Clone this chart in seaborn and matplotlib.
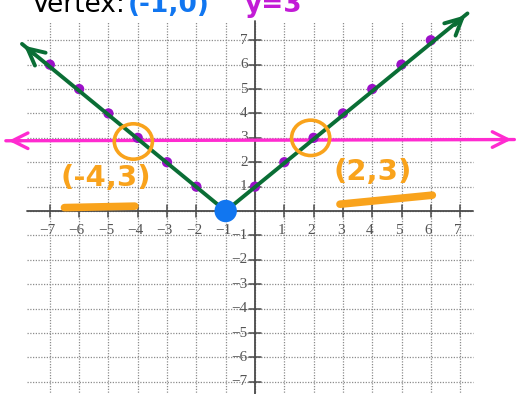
import matplotlib
matplotlib.use("Agg")
import matplotlib.pyplot as plt
import seaborn as sns
import pandas as pd
from matplotlib.patches import Ellipse

# ---- data ----
ticks_x = [-7, -6, -5, -4, -3, -2, -1, 1, 2, 3, 4, 5, 6, 7]
ticks_y = [-7, -6, -5, -4, -3, -2, -1, 1, 2, 3, 4, 5, 6, 7]
grid_vals = [-7, -6, -5, -4, -3, -2, -1, 0, 1, 2, 3, 4, 5, 6, 7]

points_x = [-7, -6, -5, -4, -3, -2, 0, 1, 2, 3, 4, 5, 6]
points_y = [6, 5, 4, 3, 2, 1, 1, 2, 3, 4, 5, 6, 7]

vline_x = [-7.95, -1, 7.25]
vline_y = [6.85, 0, 8.1]

vertex_x = [-1]
vertex_y = [0]

hline_x = [-8.5, 8.85]
hline_y = [2.88, 2.93]

circle_x = [-4.15, 1.9]
circle_y = [2.85, 3.0]

label_text = ["(-4,3)", "(2,3)"]
label_x = [-5.08, 4.03]
label_y = [1.35, 1.6]
under_x = [[-6.5, -4.1], [2.9, 6.05]]
under_y = [[0.14, 0.2], [0.28, 0.65]]

GREEN = "#0a6e35"
MAGENTA = "#ff2bd0"
PURPLE = "#9b10c8"
BLUE = "#1176f0"
ORANGE = "#f9a31c"
GRID = "#8c8c8c"
AXC = "#4a4a4a"

sns.set_style("white")
fig = plt.figure(figsize=(5.17, 3.94), dpi=100)
ax = fig.add_axes([0, 0, 1, 1])
ax.set_xlim(-8.70, 8.94)
ax.set_ylim(-7.50, 8.65)
ax.axis("off")

# grid
gx0, gx1 = -7.78, 7.44
gy0, gy1 = -7.6, 7.8
for v in grid_vals:
    ax.plot([v, v], [gy0, gy1], color=GRID, lw=0.9, ls=(0, (1, 1.2)), zorder=1)
    ax.plot([gx0, gx1], [v, v], color=GRID, lw=0.9, ls=(0, (1, 1.2)), zorder=1)

# axes
ax.plot([gx0, gx1], [0, 0], color=AXC, lw=1.3, zorder=2)
ax.plot([0, 0], [gy0, gy1], color=AXC, lw=1.3, zorder=2)
for t in ticks_x:
    ax.plot([t, t], [-0.25, 0.25], color=AXC, lw=1.1, zorder=2)
    ax.text(t - 0.08, -0.78, f"{t}".replace("-", "\u2212"), ha="center", va="center",
            fontsize=11, family="Liberation Serif", color="#555555", zorder=2)
for t in ticks_y:
    ax.plot([-0.2, 0.2], [t, t], color=AXC, lw=1.1, zorder=2)
    ax.text(-0.25, t, f"{t}".replace("-", "\u2212"), ha="right", va="center",
            fontsize=11, family="Liberation Serif", color="#555555", zorder=2)

# magenta horizontal line
df_h = pd.DataFrame({"x": hline_x, "y": hline_y})
sns.lineplot(data=df_h, x="x", y="y", ax=ax, color=MAGENTA, lw=2.4, zorder=3)
ax.annotate("", xy=(hline_x[0], hline_y[0]), xytext=(hline_x[0] + 0.6, hline_y[0]),
            arrowprops=dict(arrowstyle="->", color=MAGENTA, lw=2.4, mutation_scale=28), zorder=3)
ax.annotate("", xy=(hline_x[1], hline_y[1]), xytext=(hline_x[1] - 0.6, hline_y[1]),
            arrowprops=dict(arrowstyle="->", color=MAGENTA, lw=2.4, mutation_scale=28), zorder=3)

# purple points
df_p = pd.DataFrame({"x": points_x, "y": points_y})
sns.scatterplot(data=df_p, x="x", y="y", ax=ax, color=PURPLE, s=55, edgecolor="none", zorder=4)

# green V line
df_v = pd.DataFrame({"x": vline_x, "y": vline_y})
ax.plot(df_v["x"], df_v["y"], color=GREEN, lw=2.8, zorder=5, solid_capstyle="round", solid_joinstyle="round")
ax.annotate("", xy=(vline_x[0], vline_y[0]), xytext=(vline_x[0] + 0.5, vline_y[0] - 0.5),
            arrowprops=dict(arrowstyle="->", color=GREEN, lw=2.8, mutation_scale=30), zorder=5)
ax.annotate("", xy=(vline_x[2], vline_y[2]), xytext=(vline_x[2] - 0.5, vline_y[2] - 0.55),
            arrowprops=dict(arrowstyle="->", color=GREEN, lw=2.8, mutation_scale=30), zorder=5)

# vertex
sns.scatterplot(x=vertex_x, y=vertex_y, ax=ax, color=BLUE, s=260, edgecolor="none", zorder=6)

# orange circles and labels
for cx, cy in zip(circle_x, circle_y):
    ax.add_patch(Ellipse((cx, cy), 1.3, 1.45, fill=False, ec=ORANGE, lw=2.6, zorder=7))
for t, lx, ly in zip(label_text, label_x, label_y):
    ax.text(lx, ly, t, ha="center", va="center", fontsize=21, fontweight="bold",
            color=ORANGE, family="DejaVu Sans", zorder=7)
for ux, uy in zip(under_x, under_y):
    ax.plot(ux, uy, color=ORANGE, lw=5.5, solid_capstyle="round", zorder=7)

# clipped title (the reference shows it cut off at the top edge)
fig.text(32 / 517, 1 - 12 / 394, "Vertex:", ha="left", va="baseline", fontsize=19, color="black")
fig.text(128 / 517, 1 - 12 / 394, "(-1,0)", ha="left", va="baseline", fontsize=19,
         fontweight="bold", color=BLUE)
fig.text(245 / 517, 1 - 12 / 394, "y=3", ha="left", va="baseline", fontsize=19,
         fontweight="bold", color="#c21bd6")

fig.savefig("out.png", dpi=100)
